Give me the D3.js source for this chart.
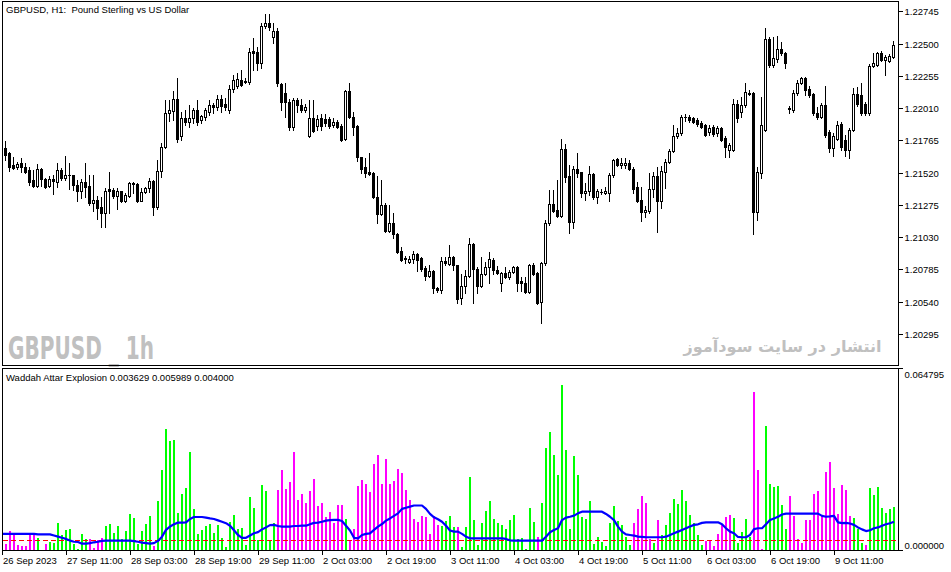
<!DOCTYPE html>
<html><head><meta charset="utf-8">
<script src="https://cdn.jsdelivr.net/npm/d3@7"></script>
<style>
html,body{margin:0;padding:0;background:#fff;}
svg{display:block;}
</style></head><body>
<svg id="c" width="951" height="572"></svg>
<script>
// ---------- DATA (GBPUSD H1, 26 Sep 19:00 .. 10 Oct 2023) ----------
const open = [
1.21713,1.21705,1.21667,1.21576,1.21561,1.21591,1.21561,1.21538,1.21462,1.21416,
1.21546,1.21470,1.21416,1.21470,1.21447,1.21538,1.21477,1.21500,1.21500,1.21424,
1.21378,1.21447,1.21416,1.21287,1.21310,1.21257,1.21211,1.21394,1.21386,1.21340,
1.21378,1.21302,1.21340,1.21432,1.21432,1.21302,1.21371,1.21401,1.21454,1.21257,
1.21530,1.21713,1.21971,1.21986,1.22078,1.21796,1.21933,1.21903,1.21933,1.21994,
1.21918,1.21941,1.21979,1.22032,1.22017,1.22078,1.22040,1.21994,1.22154,1.22176,
1.22222,1.22214,1.22207,1.22442,1.22435,1.22351,1.22632,1.22655,1.22549,1.22594,
1.22192,1.22123,1.22055,1.21865,1.22070,1.22032,1.21994,1.21796,1.21933,1.21872,
1.21933,1.21926,1.21926,1.21880,1.21903,1.21872,1.21774,1.22138,1.21941,1.21872,
1.21637,1.21561,1.21523,1.21515,1.21333,1.21204,1.21272,1.21074,1.21135,1.21052,
1.20922,1.20869,1.20839,1.20862,1.20900,1.20869,1.20793,1.20732,1.20770,1.20641,
1.20626,1.20846,1.20824,1.20877,1.20816,1.20565,1.20656,1.20732,1.20976,1.20786,
1.20656,1.20748,1.20801,1.20854,1.20778,1.20679,1.20755,1.20725,1.20763,1.20801,
1.20694,1.20679,1.20611,1.20816,1.20755,1.20535,1.20831,1.21135,1.21280,1.21234,
1.21188,1.21698,1.21492,1.21143,1.21546,1.21523,1.21363,1.21378,1.21508,1.21333,
1.21371,1.21363,1.21363,1.21500,1.21622,1.21576,1.21576,1.21591,1.21546,1.21409,
1.21310,1.21219,1.21226,1.21394,1.21492,1.21302,1.21523,1.21599,1.21682,1.21796,
1.21819,1.21941,1.21941,1.21933,1.21918,1.21895,1.21880,1.21827,1.21865,1.21819,
1.21857,1.21781,1.21690,1.21690,1.22040,1.21979,1.22032,1.22123,1.22123,1.21219,
1.21515,1.21842,1.22534,1.22336,1.22382,1.22458,1.22427,1.22009,1.21994,1.22123,
1.22199,1.22237,1.22154,1.22116,1.21971,1.21941,1.22032,1.21827,1.21705,1.21774,
1.21888,1.21766,1.21690,1.21842,1.22116,1.22108,1.22040,1.21971,1.22328,1.22336,
1.22427,1.22374,1.22366,1.22397];
const high = [
1.21728,1.21758,1.21675,1.21637,1.21599,1.21629,1.21591,1.21561,1.21538,1.21584,
1.21553,1.21477,1.21492,1.21500,1.21591,1.21553,1.21644,1.21591,1.21500,1.21462,
1.21470,1.21591,1.21500,1.21500,1.21340,1.21333,1.21401,1.21523,1.21401,1.21401,
1.21378,1.21363,1.21447,1.21447,1.21439,1.21401,1.21409,1.21477,1.21462,1.21614,
1.21743,1.22070,1.22070,1.22138,1.22237,1.21979,1.21994,1.22032,1.22009,1.22070,
1.21956,1.22009,1.22070,1.22047,1.22108,1.22108,1.22085,1.22184,1.22260,1.22275,
1.22298,1.22237,1.22465,1.22541,1.22473,1.22655,1.22724,1.22724,1.22655,1.22617,
1.22199,1.22199,1.22078,1.22085,1.22085,1.22078,1.22040,1.22070,1.22070,1.21956,
1.21964,1.21964,1.21941,1.21933,1.21918,1.21888,1.22146,1.22199,1.21979,1.21880,
1.21637,1.21629,1.21667,1.21523,1.21492,1.21462,1.21287,1.21272,1.21211,1.21059,
1.20953,1.20884,1.20884,1.20922,1.20907,1.20877,1.20808,1.20816,1.20778,1.20649,
1.20877,1.20877,1.20968,1.20884,1.20816,1.20748,1.20778,1.21021,1.20983,1.20801,
1.20877,1.20839,1.20915,1.20869,1.20808,1.20763,1.20801,1.20778,1.20808,1.20808,
1.20725,1.20725,1.20824,1.20831,1.20763,1.20839,1.21158,1.21386,1.21386,1.21462,
1.21774,1.21736,1.21576,1.21568,1.21667,1.21523,1.21439,1.21568,1.21515,1.21394,
1.21394,1.21409,1.21515,1.21622,1.21629,1.21629,1.21629,1.21614,1.21561,1.21447,
1.21409,1.21264,1.21515,1.21523,1.21561,1.21568,1.21622,1.21698,1.21880,1.21857,
1.21956,1.21964,1.21956,1.21941,1.21933,1.21910,1.21888,1.21880,1.21880,1.21872,
1.21865,1.21796,1.21743,1.22078,1.22070,1.22093,1.22199,1.22146,1.22131,1.21561,
1.22093,1.22617,1.22549,1.22549,1.22556,1.22511,1.22435,1.22024,1.22146,1.22222,
1.22245,1.22245,1.22176,1.22123,1.22017,1.22047,1.22176,1.21842,1.21819,1.21910,
1.21903,1.21804,1.21857,1.22161,1.22169,1.22199,1.22055,1.22344,1.22427,1.22435,
1.22442,1.22412,1.22420,1.22518];
const low = [
1.21637,1.21614,1.21530,1.21546,1.21546,1.21523,1.21515,1.21424,1.21409,1.21409,
1.21416,1.21401,1.21409,1.21356,1.21409,1.21462,1.21462,1.21394,1.21386,1.21302,
1.21325,1.21333,1.21272,1.21226,1.21166,1.21105,1.21105,1.21211,1.21325,1.21242,
1.21295,1.21295,1.21333,1.21363,1.21295,1.21302,1.21363,1.21371,1.21196,1.21242,
1.21485,1.21705,1.21910,1.21918,1.21751,1.21766,1.21880,1.21865,1.21895,1.21880,
1.21895,1.21918,1.21956,1.21971,1.21994,1.21979,1.21994,1.21971,1.22131,1.22161,
1.22176,1.22199,1.22192,1.22298,1.22298,1.22313,1.22617,1.22602,1.22503,1.22176,
1.21994,1.21941,1.21842,1.21842,1.21979,1.21979,1.21979,1.21789,1.21827,1.21842,
1.21842,1.21872,1.21857,1.21865,1.21857,1.21758,1.21766,1.21933,1.21804,1.21606,
1.21515,1.21485,1.21500,1.21325,1.21135,1.21196,1.21067,1.21067,1.21021,1.20907,
1.20846,1.20831,1.20831,1.20831,1.20770,1.20770,1.20702,1.20725,1.20603,1.20611,
1.20603,1.20816,1.20816,1.20778,1.20527,1.20520,1.20603,1.20725,1.20527,1.20603,
1.20649,1.20740,1.20679,1.20748,1.20748,1.20618,1.20717,1.20710,1.20755,1.20618,
1.20618,1.20603,1.20603,1.20740,1.20520,1.20375,1.20816,1.21120,1.21219,1.21181,
1.21181,1.21447,1.21059,1.21097,1.21485,1.21333,1.21310,1.21348,1.21318,1.21287,
1.21356,1.21356,1.21302,1.21485,1.21568,1.21553,1.21553,1.21538,1.21363,1.21295,
1.21150,1.21181,1.21211,1.21333,1.21067,1.21249,1.21401,1.21591,1.21675,1.21781,
1.21804,1.21910,1.21903,1.21895,1.21872,1.21857,1.21796,1.21804,1.21796,1.21796,
1.21758,1.21637,1.21637,1.21682,1.21903,1.21941,1.22017,1.22108,1.21052,1.21158,
1.21477,1.21834,1.22321,1.22321,1.22359,1.22412,1.22313,1.21971,1.21979,1.22108,
1.22192,1.22108,1.22093,1.21956,1.21926,1.21933,1.21789,1.21675,1.21644,1.21766,
1.21690,1.21644,1.21629,1.21834,1.22024,1.21956,1.21956,1.21956,1.22321,1.22328,
1.22366,1.22260,1.22359,1.22389];
const close = [
1.21652,1.21652,1.21561,1.21553,1.21584,1.21561,1.21523,1.21447,1.21416,1.21546,
1.21470,1.21409,1.21470,1.21454,1.21538,1.21477,1.21500,1.21502,1.21424,1.21378,
1.21447,1.21409,1.21287,1.21310,1.21249,1.21211,1.21378,1.21378,1.21340,1.21378,
1.21302,1.21348,1.21439,1.21439,1.21302,1.21371,1.21401,1.21454,1.21257,1.21530,
1.21713,1.21971,1.21994,1.22078,1.21774,1.21933,1.21903,1.21933,1.21994,1.21903,
1.21948,1.21994,1.22032,1.22017,1.22078,1.22024,1.22017,1.22154,1.22222,1.22230,
1.22184,1.22207,1.22435,1.22427,1.22351,1.22632,1.22655,1.22625,1.22594,1.22199,
1.22055,1.22055,1.21865,1.22070,1.22032,1.21994,1.22017,1.21933,1.21834,1.21926,
1.21872,1.21895,1.21872,1.21903,1.21865,1.21766,1.22138,1.21941,1.21865,1.21637,
1.21546,1.21515,1.21508,1.21333,1.21204,1.21272,1.21074,1.21135,1.21052,1.20915,
1.20854,1.20867,1.20862,1.20900,1.20854,1.20786,1.20732,1.20770,1.20641,1.20626,
1.20846,1.20831,1.20877,1.20816,1.20558,1.20656,1.20732,1.20976,1.20786,1.20656,
1.20748,1.20801,1.20862,1.20778,1.20755,1.20755,1.20725,1.20763,1.20801,1.20679,
1.20679,1.20611,1.20816,1.20748,1.20527,1.20831,1.21135,1.21280,1.21226,1.21188,
1.21698,1.21485,1.21143,1.21546,1.21515,1.21363,1.21378,1.21508,1.21333,1.21378,
1.21369,1.21378,1.21500,1.21614,1.21576,1.21591,1.21591,1.21546,1.21394,1.21302,
1.21219,1.21234,1.21394,1.21492,1.21302,1.21530,1.21599,1.21682,1.21796,1.21819,
1.21941,1.21939,1.21918,1.21903,1.21888,1.21865,1.21804,1.21857,1.21812,1.21857,
1.21766,1.21713,1.21728,1.22040,1.21933,1.22032,1.22131,1.22121,1.21219,1.21523,
1.21880,1.22534,1.22336,1.22389,1.22458,1.22427,1.22351,1.22007,1.22123,1.22199,
1.22237,1.22146,1.22108,1.21971,1.21941,1.22032,1.21804,1.21705,1.21796,1.21880,
1.21713,1.21690,1.21842,1.22116,1.22040,1.21971,1.21971,1.22328,1.22351,1.22427,
1.22374,1.22397,1.22404,1.22488];

// Waddah Attar Explosion buffers
const trendUp = [
0,0,0,0,0,0,0,0,0,0.0045,
0,0,0.0031,0.0028,0.0100,0.0057,0.0075,0.0078,0.0025,0.0007,
0.0059,0.0043,0,0,0,0,0.0089,0.0095,0.0064,0.0089,
0.0043,0.0071,0.0132,0.0117,0.0025,0.0071,0.0096,0.0125,0,0.0178,
0.0288,0.0434,0.0392,0.0394,0.0135,0.0203,0.0223,0.0351,0.0150,0.0061,
0.0075,0.0089,0.0096,0.0064,0.0092,0.0046,0.0014,0.0104,0.0128,0.0078,
0.0081,0.0021,0.0192,0.0153,0.0039,0.0235,0.0214,0.0036,0.0100,0,
0,0,0,0,0,0,0,0,0,0,
0,0,0,0,0,0,0.0114,0,0,0,
0,0,0,0,0,0,0,0,0,0,
0,0,0,0,0,0,0,0,0,0,
0.0089,0.0107,0.0125,0.0084,0,0.0016,0.0085,0.0265,0.0110,0.0021,
0.0100,0.0142,0.0178,0.0114,0.0100,0.0091,0.0078,0.0110,0.0128,0.0043,
0.0045,0.0007,0.0154,0.0104,0,0.0172,0.0368,0.0424,0.0343,0.0272,
0.0591,0.0360,0.0078,0.0339,0.0272,0.0121,0.0114,0.0178,0.0025,0.0050,
0.0032,0.0018,0.0101,0.0160,0.0107,0.0093,0.0051,0.0021,0,0,
0,0,0,0.0030,0,0.0057,0.0091,0.0136,0.0186,0.0168,
0.0217,0.0178,0.0128,0.0101,0.0057,0.0021,0,0,0,0,
0,0,0,0.0117,0.0030,0.0069,0.0114,0.0049,0,0,
0,0.0445,0.0239,0.0229,0.0231,0.0164,0.0077,0,0,0,
0,0,0,0,0,0,0,0,0,0,
0,0,0,0.0119,0.0078,0.0030,0,0.0224,0.0201,0.0228,
0.0153,0.0136,0.0148,0.0157];
const trendDown = [
0.0030,0.0025,0.0071,0.0059,0.0021,0.0018,0.0018,0.0059,0.0057,0,
0,0.0025,0,0,0,0,0,0,0,0,
0,0,0.0043,0.0010,0.0039,0.0045,0,0,0,0,
0,0,0,0,0,0,0,0,0.0018,0,
0,0,0,0,0,0,0,0,0,0,
0,0,0,0,0,0,0,0,0,0,
0,0,0,0,0,0,0,0,0,0.0217,
0.0288,0.0221,0.0246,0.0351,0.0182,0.0204,0.0170,0.0214,0.0256,0.0160,
0.0171,0.0121,0.0140,0.0100,0.0164,0.0164,0,0.0039,0.0078,0.0233,
0.0253,0.0239,0.0211,0.0309,0.0342,0.0239,0.0328,0.0239,0.0249,0.0292,
0.0278,0.0217,0.0182,0.0114,0.0103,0.0125,0.0121,0.0061,0.0123,0.0091,
0,0,0,0,0.0084,0,0,0,0,0,
0,0,0,0,0,0,0,0,0,0,
0,0,0,0,0.0050,0,0,0,0,0,
0,0,0,0,0,0,0,0,0,0,
0,0,0,0,0,0,0,0,0.0101,0.0150,
0.0196,0.0172,0.0043,0,0.0110,0,0,0,0,0,
0,0,0,0,0,0,0.0037,0.0037,0.0018,0.0061,
0.0093,0.0121,0.0128,0,0,0,0,0,0.0566,0.0288,
0.0007,0,0,0,0,0,0,0.0196,0.0126,0.0044,
0.0030,0.0110,0.0110,0.0204,0.0214,0.0128,0.0282,0.0317,0.0225,0.0132,
0.0235,0.0217,0.0125,0,0,0,0.0021,0,0,0,
0,0,0,0];
const explosion = [
0.0061,0.0061,0.0061,0.0061,0.0061,0.0061,0.0061,0.0061,0.0061,0.0059,
0.0059,0.0059,0.0059,0.0055,0.0051,0.0047,0.0043,0.0037,0.0033,0.0032,
0.0026,0.0026,0.0028,0.0031,0.0033,0.0036,0.0037,0.0037,0.0037,0.0037,
0.0037,0.0037,0.0037,0.0035,0.0033,0.0030,0.0028,0.0026,0.0028,0.0036,
0.0051,0.0075,0.0087,0.0095,0.0101,0.0101,0.0102,0.0114,0.0121,0.0121,
0.0121,0.0119,0.0116,0.0114,0.0109,0.0104,0.0099,0.0090,0.0074,0.0057,
0.0047,0.0047,0.0055,0.0063,0.0067,0.0077,0.0084,0.0092,0.0093,0.0089,
0.0087,0.0087,0.0087,0.0089,0.0089,0.0090,0.0090,0.0095,0.0100,0.0101,
0.0104,0.0108,0.0110,0.0111,0.0111,0.0107,0.0090,0.0073,0.0047,0.0045,
0.0057,0.0061,0.0063,0.0075,0.0087,0.0096,0.0108,0.0116,0.0125,0.0134,
0.0150,0.0154,0.0158,0.0162,0.0162,0.0162,0.0150,0.0132,0.0120,0.0113,
0.0104,0.0090,0.0073,0.0069,0.0069,0.0061,0.0051,0.0045,0.0045,0.0045,
0.0045,0.0045,0.0045,0.0045,0.0045,0.0045,0.0043,0.0038,0.0037,0.0037,
0.0037,0.0037,0.0037,0.0037,0.0037,0.0037,0.0051,0.0067,0.0075,0.0081,
0.0110,0.0119,0.0122,0.0126,0.0134,0.0140,0.0140,0.0140,0.0140,0.0140,
0.0140,0.0132,0.0122,0.0110,0.0087,0.0069,0.0059,0.0057,0.0055,0.0051,
0.0050,0.0049,0.0049,0.0049,0.0049,0.0049,0.0051,0.0057,0.0063,0.0069,
0.0075,0.0081,0.0087,0.0093,0.0095,0.0100,0.0102,0.0102,0.0102,0.0102,
0.0095,0.0081,0.0069,0.0063,0.0050,0.0049,0.0049,0.0057,0.0078,0.0081,
0.0081,0.0095,0.0110,0.0116,0.0122,0.0130,0.0133,0.0133,0.0133,0.0133,
0.0133,0.0133,0.0133,0.0133,0.0133,0.0125,0.0122,0.0123,0.0125,0.0102,
0.0099,0.0100,0.0098,0.0093,0.0084,0.0077,0.0071,0.0074,0.0081,0.0084,
0.0090,0.0095,0.0099,0.0104];
const deadZone = 0.004;

const priceTicks = [1.22745,1.22500,1.22255,1.22010,1.21765,1.21520,1.21275,1.21030,1.20785,1.20540,1.20295];
const indTicks = [0.064795, 0.000000];
const timeTickIdx = [0,16,32,48,64,80,96,112,128,144,160,176,192,208];
const timeTickLabels = ["26 Sep 2023","27 Sep 11:00","28 Sep 03:00","28 Sep 19:00","29 Sep 11:00",
  "2 Oct 03:00","2 Oct 19:00","3 Oct 11:00","4 Oct 03:00","4 Oct 19:00","5 Oct 11:00",
  "6 Oct 03:00","6 Oct 19:00","9 Oct 11:00"];
const titleText = "GBPUSD, H1:  Pound Sterling vs US Dollar";
const indTitle = "Waddah Attar Explosion 0.003629 0.005989 0.004000";
const watermark1 = "GBPUSD _ 1h";
const watermark2 = "انتشار در سایت سودآموز";

// ---------- LAYOUT ----------
const FONT = "'Liberation Sans', Arial, sans-serif";
const FS = 9.5;
const L = 2.5, R = 898.5, mT = 1.5, mB = 365.5, iT = 368.5, iB = 550.5;
const n = open.length;

const svg = d3.select('#c');
svg.append('rect').attr('width',951).attr('height',572).attr('fill','#fff');

const x = d3.scaleLinear().domain([0, n-1]).range([1.5, 1.5 + 4*(n-1)]);
const y = d3.scaleLinear().domain([1.20295, 1.22745]).range([333.8, 11.4]);
const yi = d3.scaleLinear().domain([0, 0.064795]).range([551, 369]);

const defs = svg.append('defs');
defs.append('clipPath').attr('id','clipMain').append('rect')
  .attr('x', L+0.5).attr('y', mT+0.5).attr('width', R-L-1).attr('height', mB-mT-1);
defs.append('clipPath').attr('id','clipInd').append('rect')
  .attr('x', L+0.5).attr('y', iT+0.5).attr('width', R-L-1).attr('height', iB-iT-1);

// watermarks
svg.append('text').text(watermark1)
  .attr('x', 8).attr('y', 359)
  .attr('font-family', "'Liberation Sans Narrow','DejaVu Sans Condensed','Liberation Sans',sans-serif")
  .attr('font-weight','bold').attr('font-size', 32)
  .attr('textLength', 146).attr('lengthAdjust','spacingAndGlyphs')
  .attr('fill', '#c0c0c0');
svg.append('text').text(watermark2)
  .attr('x', 782.5).attr('y', 352)
  .attr('text-anchor','middle')
  .attr('font-family', "'DejaVu Sans', sans-serif")
  .attr('font-weight','bold').attr('font-size', 16)
  .attr('textLength', 198).attr('lengthAdjust','spacingAndGlyphs')
  .attr('fill', '#c0c0c0');

// ---------- CANDLES ----------
const gC = svg.append('g').attr('clip-path','url(#clipMain)').attr('shape-rendering','crispEdges');
const idx = d3.range(n);
const py = v => Math.round(y(v));

gC.selectAll('rect.wick').data(idx).join('rect').attr('class','wick')
  .attr('x', i => x(i) - 0.5).attr('width', 1)
  .attr('y', i => py(high[i]))
  .attr('height', i => py(low[i]) - py(high[i]) + 1)
  .attr('fill', '#000');

gC.selectAll('rect.body').data(idx).join('rect').attr('class','body')
  .each(function(i){
    const top = py(Math.max(open[i], close[i]));
    const bot = py(Math.min(open[i], close[i]));
    const s = d3.select(this);
    if (close[i] > open[i] && bot - top >= 2) {
      s.attr('x', x(i) - 1).attr('width', 2)
       .attr('y', top + 0.5).attr('height', bot - top)
       .attr('fill', '#fff').attr('stroke', '#000').attr('stroke-width', 1);
    } else {
      s.attr('x', x(i) - 1.5).attr('width', 3)
       .attr('y', top).attr('height', Math.max(1, bot - top + 1))
       .attr('fill', '#000');
    }
  });

// ---------- INDICATOR ----------
const gI = svg.append('g').attr('clip-path','url(#clipInd)');
const gBars = gI.append('g').attr('shape-rendering','crispEdges');
gBars.selectAll('rect.up').data(idx.filter(i => trendUp[i] > 0)).join('rect').attr('class','up')
  .attr('x', i => x(i) - 0.5).attr('width', 2)
  .attr('y', i => Math.round(yi(trendUp[i])))
  .attr('height', i => iB - Math.round(yi(trendUp[i])))
  .attr('fill', '#00ff00');
gBars.selectAll('rect.dn').data(idx.filter(i => trendDown[i] > 0)).join('rect').attr('class','dn')
  .attr('x', i => x(i) - 0.5).attr('width', 2)
  .attr('y', i => Math.round(yi(trendDown[i])))
  .attr('height', i => iB - Math.round(yi(trendDown[i])))
  .attr('fill', '#ff00ff');

gI.append('line')
  .attr('x1', L).attr('x2', R)
  .attr('y1', Math.round(yi(deadZone)) + 0.5).attr('y2', Math.round(yi(deadZone)) + 0.5)
  .attr('stroke', '#ff0000').attr('stroke-width', 1).attr('stroke-dasharray', '5,3')
  .attr('shape-rendering','crispEdges');

gI.append('path')
  .datum(explosion)
  .attr('d', d3.line().x((d,i) => x(i) + 0.5).y(d => yi(d)))
  .attr('fill', 'none').attr('stroke', '#0000ff').attr('stroke-width', 2.2)
  .attr('stroke-linejoin','round');

// ---------- FRAMES ----------
const gF = svg.append('g').attr('fill','none').attr('stroke','#000').attr('stroke-width',1)
  .attr('shape-rendering','crispEdges');
gF.append('rect').attr('x', L).attr('y', mT).attr('width', R-L).attr('height', mB-mT);
gF.append('rect').attr('x', L).attr('y', iT).attr('width', R-L).attr('height', iB-iT);

// ---------- AXES ----------
function styleAxis(g){
  g.attr('font-family', FONT).attr('font-size', FS).attr('shape-rendering','crispEdges');
  g.select('.domain').remove();
  g.selectAll('.tick line').attr('stroke','#000');
  g.selectAll('.tick text').attr('fill','#000');
}
const ax = svg.append('g').attr('transform', `translate(${R},0)`)
  .call(d3.axisRight(y).tickValues(priceTicks).tickFormat(d3.format('.5f')).tickSize(4).tickPadding(2));
styleAxis(ax);
ax.selectAll('.tick').attr('transform', d => `translate(0,${Math.round(y(d)) + 0.5})`);

const axI = svg.append('g').attr('transform', `translate(${R},0)`)
  .call(d3.axisRight(yi).tickValues(indTicks).tickFormat(d3.format('.6f')).tickSize(4).tickPadding(2));
styleAxis(axI);
axI.selectAll('.tick').attr('transform', d => `translate(0,${d > 0 ? iT : iB})`);
axI.selectAll('.tick text').attr('dy', d => d > 0 ? '0.95em' : '-0.15em');

const axT = svg.append('g').attr('transform', `translate(0,${iB})`)
  .call(d3.axisBottom(x).tickValues(timeTickIdx).tickFormat((d,k) => timeTickLabels[k]).tickSize(4).tickPadding(3));
styleAxis(axT);
axT.selectAll('.tick text').attr('text-anchor','start').attr('x', 1);

// ---------- TITLES ----------
svg.append('text').text(titleText).attr('x', 6).attr('y', 13)
  .attr('font-family', FONT).attr('font-size', FS).attr('fill', '#000')
  .style('white-space','pre').attr('xml:space','preserve');
svg.append('text').text(indTitle).attr('x', 6).attr('y', 381)
  .attr('font-family', FONT).attr('font-size', FS).attr('fill', '#000');
</script>
</body></html>
